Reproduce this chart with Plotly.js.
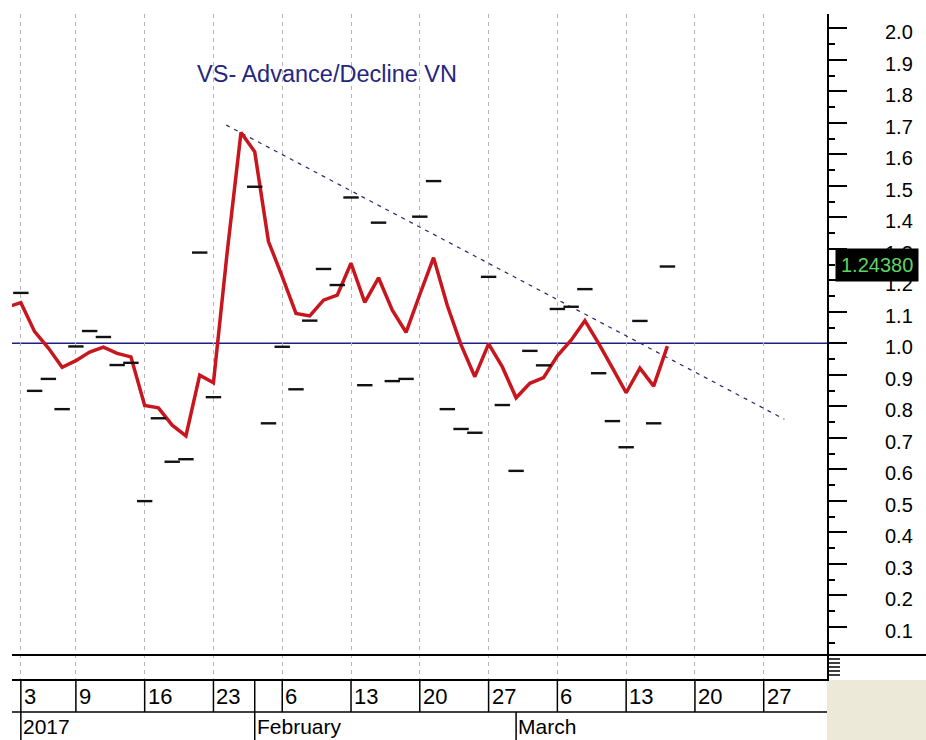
<!DOCTYPE html>
<html><head><meta charset="utf-8">
<script src="https://cdn.plot.ly/plotly-3.0.1.min.js"></script>
<style>html,body{margin:0;padding:0;background:#fff;}#chart{width:926px;height:740px;}</style>
</head><body><div id="chart"></div>
<script>
// ---- data ----
const dates = ["2016-12-30","2017-01-03","2017-01-04","2017-01-05","2017-01-06","2017-01-09","2017-01-10","2017-01-11","2017-01-12","2017-01-13","2017-01-16","2017-01-17","2017-01-18","2017-01-19","2017-01-20","2017-01-23","2017-01-24","2017-01-25","2017-02-02","2017-02-03","2017-02-06","2017-02-07","2017-02-08","2017-02-09","2017-02-10","2017-02-13","2017-02-14","2017-02-15","2017-02-16","2017-02-17","2017-02-20","2017-02-21","2017-02-22","2017-02-23","2017-02-24","2017-02-27","2017-02-28","2017-03-01","2017-03-02","2017-03-03","2017-03-06","2017-03-07","2017-03-08","2017-03-09","2017-03-10","2017-03-13","2017-03-14","2017-03-15","2017-03-16","2017-03-17","2017-03-20","2017-03-21","2017-03-22","2017-03-23","2017-03-24","2017-03-27","2017-03-28","2017-03-29","2017-03-30","2017-03-31"];
const adAverage = [1.115,1.129,1.037,0.985,0.924,0.945,0.972,0.988,0.968,0.957,0.803,0.795,0.740,0.706,0.899,0.875,1.29,1.669,1.608,1.323,1.212,1.095,1.087,1.137,1.153,1.254,1.130,1.208,1.105,1.035,1.155,1.272,1.120,0.995,0.894,0.998,0.925,0.827,0.873,0.891,0.960,1.010,1.072,1.000,0.922,0.843,0.921,0.864,0.991];
const adDaily = [null,1.160,0.849,0.887,0.791,0.99,1.039,1.020,0.931,0.938,0.499,0.762,0.624,0.632,1.288,0.829,null,null,1.497,0.746,0.989,0.854,1.072,1.236,1.185,1.463,0.867,1.383,0.880,0.887,1.402,1.515,0.791,0.728,0.716,1.211,0.804,0.595,0.976,0.930,1.109,1.116,1.172,0.905,0.753,0.670,1.071,0.746,1.2438];
const trendX = [15.92, 56.5];
const trendY = [1.693, 0.759];
const refLevel = 1.0;
const lastValueText = "1.24380";
const lastValue = 1.2438;
const weekTickDates = ["2017-01-03","2017-01-09","2017-01-16","2017-01-23","2017-02-02","2017-02-06","2017-02-13","2017-02-20","2017-02-27","2017-03-06","2017-03-13","2017-03-20","2017-03-27"];
const weekTickLabels = ["3","9","16","23","","6","13","20","27","6","13","20","27"];
const monthStartDates = ["2017-01-03","2017-02-02","2017-03-01"];
const monthLabels = ["2017","February","March"];
const yTickVals = [0.1,0.2,0.3,0.4,0.5,0.6,0.7,0.8,0.9,1.0,1.1,1.2,1.3,1.4,1.5,1.6,1.7,1.8,1.9,2.0];
const yTickLabels = ["0.1","0.2","0.3","0.4","0.5","0.6","0.7","0.8","0.9","1.0","1.1","1.2","1.3","1.4","1.5","1.6","1.7","1.8","1.9","2.0"];
const titleText = "VS- Advance/Decline VN";

// ---- build ----
const idx = d => dates.indexOf(d);
const xs = adAverage.map((_, i) => i);
const font = "Liberation Sans, Arial, sans-serif";
const W = 926, H = 740, ML = 12, MR = 99, MT = 14, MB = 61;
const PW = W - ML - MR, PH = H - MT - MB;
const px = x => (x - ML) / PW;           // pixel -> paper x
const py = y => (H - MB - y) / PH;       // pixel -> paper y

const gridIdx = weekTickDates.filter((d, i) => weekTickLabels[i] !== "").map(idx);

const traces = [
  {x: trendX, y: trendY, mode: 'lines', line: {color: '#26266e', width: 1.2, dash: '4px,5px'}, hoverinfo: 'skip'},
  {x: xs, y: adAverage, mode: 'lines', line: {color: '#c8161e', width: 3.5}, hoverinfo: 'skip'},
  {x: xs, y: adDaily, mode: 'markers', marker: {symbol: 'line-ew', size: 11, color: '#000', line: {width: 2.4, color: '#111'}}, hoverinfo: 'skip'}
];

const shapes = [];
shapes.push({type: 'line', xref: 'paper', yref: 'y', x0: 0, x1: 1, y0: refLevel, y1: refLevel, line: {color: '#1f1f8c', width: 1.6}, layer: 'below'});
shapes.push({type: 'line', xref: 'paper', yref: 'paper', x0: 0, x1: px(W + 2), y0: py(655), y1: py(655), line: {color: '#000', width: 2}});
shapes.push({type: 'rect', xref: 'paper', yref: 'paper', x0: 1, x1: px(W + 2), y0: py(680), y1: py(H + 2), fillcolor: '#ECE9D8', line: {width: 0}, layer: 'below'});
shapes.push({type: 'line', xref: 'paper', yref: 'paper', x0: 0, x1: 1, y0: py(712), y1: py(712), line: {color: '#000', width: 1.6}});
weekTickDates.forEach(d => {
  shapes.push({type: 'line', xref: 'x', yref: 'paper', x0: idx(d), x1: idx(d), y0: py(679), y1: py(712), line: {color: '#000', width: 1.5}});
});
monthStartDates.forEach(d => {
  shapes.push({type: 'line', xref: 'x', yref: 'paper', x0: idx(d), x1: idx(d), y0: py(712), y1: py(H + 2), line: {color: '#000', width: 1.5}});
});
[659, 663, 667, 671, 675].forEach(y => {
  shapes.push({type: 'line', xref: 'paper', yref: 'paper', x0: 1, x1: px(W - MR + 13), y0: py(y), y1: py(y), line: {color: '#000', width: 1.5}});
});

const annotations = [];
weekTickDates.forEach((d, i) => {
  if (!weekTickLabels[i]) return;
  annotations.push({x: idx(d), xref: 'x', y: py(696), yref: 'paper', text: weekTickLabels[i], showarrow: false, xanchor: 'left', yanchor: 'middle', xshift: 1, font: {family: font, size: 22, color: '#000'}});
});
monthStartDates.forEach((d, i) => {
  annotations.push({x: idx(d), xref: 'x', y: py(727), yref: 'paper', text: monthLabels[i], showarrow: false, xanchor: 'left', yanchor: 'middle', xshift: 1, borderpad: 0, font: {family: font, size: 21, color: '#000'}});
});
annotations.push({x: px(835), xref: 'paper', y: lastValue, yref: 'y', yshift: 2, text: lastValueText, showarrow: false, xanchor: 'left', yanchor: 'middle', bgcolor: '#000', borderpad: 5, font: {family: font, size: 20, color: '#5fd35f'}});

const layout = {
  width: W, height: H,
  margin: {l: ML, r: MR, t: MT, b: MB, pad: 0},
  paper_bgcolor: '#fff', plot_bgcolor: '#fff',
  showlegend: false,
  title: {text: titleText, x: 327 / W, y: 1 - 74 / H, xref: 'container', yref: 'container', xanchor: 'center', yanchor: 'middle', font: {family: font, size: 23.5, color: '#26267e'}},
  xaxis: {range: [0.356, 59.6], tickmode: 'array', tickvals: gridIdx, showticklabels: false, ticks: '', showgrid: true, gridcolor: '#b4b4b4', griddash: '4px,4px', gridwidth: 1, showline: true, linecolor: '#000', linewidth: 2, zeroline: false, fixedrange: true},
  yaxis: {side: 'right', range: [-0.0657, 2.0454], tickmode: 'array', tickvals: yTickVals, ticktext: yTickLabels, ticks: 'outside', ticklen: 18, tickwidth: 2, tickcolor: '#000', showline: true, linecolor: '#000', linewidth: 2, showgrid: false, zeroline: false, ticklabelstandoff: 34, ticklabelshift: 4, tickfont: {family: font, size: 20, color: '#000'},
    minor: {tickmode: 'array', tickvals: yTickVals.map(v => +(v - 0.05).toFixed(2)), ticks: 'outside', ticklen: 6, tickwidth: 2, tickcolor: '#000', showgrid: false}, fixedrange: true},
  shapes: shapes,
  annotations: annotations
};

Plotly.newPlot('chart', traces, layout, {displayModeBar: false, staticPlot: true});
</script>
</body></html>
